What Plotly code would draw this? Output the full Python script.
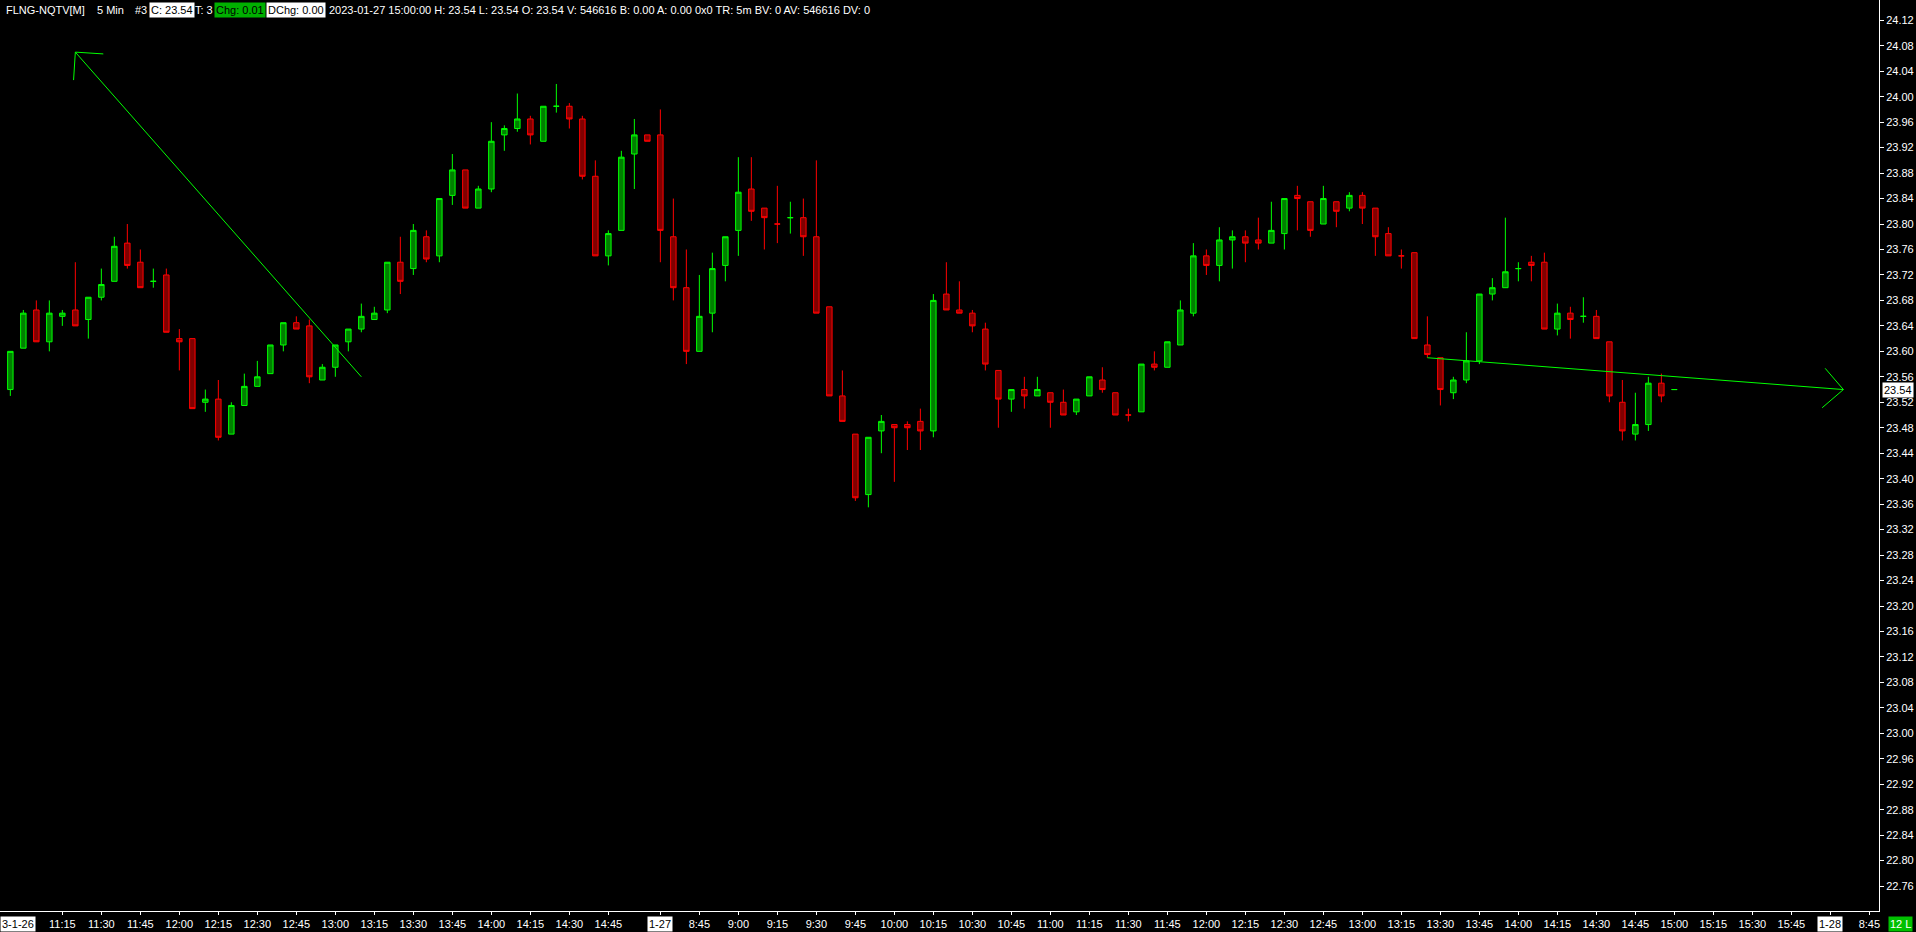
import math
import pandas as pd
import plotly.graph_objects as go

# ---------------- data ----------------
day1_times = pd.date_range("2023-01-26 10:55", "2023-01-26 15:00", freq="5min")
day2_times = pd.date_range("2023-01-27 08:30", "2023-01-27 15:00", freq="5min")
future_times = list(pd.date_range("2023-01-27 15:05", "2023-01-27 15:55", freq="5min")) + \
    list(pd.date_range("2023-01-28 08:30", "2023-01-28 08:45", freq="5min"))

bar_times = [t.strftime("%Y-%m-%d %H:%M") for t in list(day1_times) + list(day2_times)]
slot_times = bar_times + [t.strftime("%Y-%m-%d %H:%M") for t in future_times]

opens = [23.54, 23.605, 23.665, 23.615, 23.655, 23.665, 23.65, 23.685, 23.71, 23.77,
         23.74, 23.71, 23.72, 23.62, 23.62, 23.52, 23.525, 23.47, 23.515, 23.545,
         23.565, 23.61, 23.645, 23.64, 23.555, 23.575, 23.615, 23.635, 23.65, 23.665,
         23.74, 23.73, 23.78, 23.75, 23.845, 23.885, 23.825, 23.855, 23.94, 23.95,
         23.965, 23.93, 23.985, 23.985, 23.965, 23.875, 23.75, 23.79, 23.91, 23.94,
         23.94, 23.78, 23.70, 23.60, 23.66, 23.735, 23.79, 23.855, 23.825, 23.80,
         23.81, 23.81, 23.78, 23.67, 23.53, 23.47, 23.375, 23.475, 23.485, 23.485,
         23.49, 23.475, 23.69, 23.665, 23.66, 23.635, 23.57, 23.525, 23.54, 23.53,
         23.535, 23.52, 23.505, 23.53, 23.555, 23.535, 23.50, 23.505, 23.58, 23.575,
         23.61, 23.66, 23.75, 23.735, 23.775, 23.78, 23.775, 23.77, 23.785, 23.845,
         23.835, 23.80, 23.835, 23.825, 23.845, 23.825, 23.785, 23.75, 23.755, 23.61,
         23.59, 23.535, 23.555, 23.585, 23.69, 23.70, 23.73, 23.74, 23.74, 23.635,
         23.66, 23.655, 23.655, 23.615, 23.52, 23.47, 23.485, 23.55, 23.54]
highs = [23.60, 23.665, 23.68, 23.68, 23.665, 23.74, 23.685, 23.73, 23.78, 23.80,
         23.76, 23.73, 23.73, 23.635, 23.62, 23.54, 23.555, 23.52, 23.565, 23.585,
         23.61, 23.645, 23.655, 23.65, 23.58, 23.61, 23.635, 23.675, 23.67, 23.74,
         23.78, 23.80, 23.79, 23.84, 23.91, 23.885, 23.86, 23.96, 23.955, 24.005,
         23.97, 23.985, 24.02, 23.99, 23.97, 23.90, 23.79, 23.915, 23.965, 23.94,
         23.98, 23.84, 23.76, 23.72, 23.755, 23.78, 23.905, 23.905, 23.825, 23.86,
         23.835, 23.84, 23.90, 23.67, 23.57, 23.47, 23.465, 23.50, 23.485, 23.49,
         23.51, 23.69, 23.74, 23.71, 23.665, 23.645, 23.57, 23.54, 23.56, 23.56,
         23.535, 23.54, 23.525, 23.56, 23.575, 23.535, 23.51, 23.58, 23.60, 23.615,
         23.68, 23.77, 23.76, 23.795, 23.79, 23.79, 23.81, 23.835, 23.84, 23.86,
         23.835, 23.86, 23.835, 23.85, 23.85, 23.825, 23.795, 23.76, 23.755, 23.655,
         23.59, 23.56, 23.63, 23.69, 23.715, 23.81, 23.74, 23.75, 23.755, 23.675,
         23.67, 23.685, 23.665, 23.615, 23.555, 23.535, 23.56, 23.565, 23.54]
lows = [23.53, 23.605, 23.615, 23.60, 23.64, 23.64, 23.62, 23.68, 23.71, 23.73,
        23.70, 23.70, 23.63, 23.57, 23.51, 23.505, 23.46, 23.47, 23.515, 23.545,
        23.565, 23.60, 23.635, 23.55, 23.555, 23.56, 23.60, 23.63, 23.65, 23.66,
        23.69, 23.72, 23.74, 23.74, 23.83, 23.825, 23.825, 23.85, 23.915, 23.945,
        23.925, 23.93, 23.975, 23.95, 23.87, 23.75, 23.735, 23.79, 23.855, 23.93,
        23.74, 23.68, 23.58, 23.60, 23.63, 23.71, 23.75, 23.805, 23.76, 23.77,
        23.785, 23.75, 23.66, 23.53, 23.49, 23.365, 23.355, 23.44, 23.395, 23.445,
        23.445, 23.465, 23.665, 23.66, 23.63, 23.57, 23.48, 23.505, 23.51, 23.53,
        23.48, 23.50, 23.50, 23.53, 23.535, 23.50, 23.49, 23.505, 23.57, 23.575,
        23.61, 23.655, 23.72, 23.71, 23.73, 23.74, 23.76, 23.77, 23.76, 23.79,
        23.78, 23.80, 23.795, 23.82, 23.80, 23.75, 23.75, 23.73, 23.62, 23.59,
        23.515, 23.525, 23.55, 23.58, 23.68, 23.70, 23.71, 23.71, 23.635, 23.625,
        23.62, 23.645, 23.62, 23.52, 23.46, 23.46, 23.475, 23.52, 23.54]
closes = [23.60, 23.66, 23.615, 23.66, 23.66, 23.64, 23.685, 23.705, 23.765, 23.735,
          23.70, 23.71, 23.63, 23.615, 23.51, 23.525, 23.465, 23.515, 23.545, 23.56,
          23.61, 23.645, 23.635, 23.56, 23.575, 23.61, 23.635, 23.655, 23.66, 23.74,
          23.71, 23.79, 23.745, 23.84, 23.885, 23.825, 23.855, 23.93, 23.95, 23.965,
          23.94, 23.985, 23.985, 23.965, 23.875, 23.75, 23.785, 23.905, 23.94, 23.93,
          23.79, 23.70, 23.60, 23.655, 23.73, 23.78, 23.85, 23.82, 23.81, 23.80,
          23.81, 23.78, 23.66, 23.53, 23.49, 23.37, 23.465, 23.49, 23.48, 23.48,
          23.475, 23.68, 23.665, 23.66, 23.64, 23.58, 23.525, 23.54, 23.53, 23.54,
          23.52, 23.50, 23.525, 23.56, 23.54, 23.50, 23.50, 23.58, 23.575, 23.615,
          23.665, 23.75, 23.735, 23.775, 23.78, 23.77, 23.77, 23.79, 23.84, 23.84,
          23.79, 23.84, 23.82, 23.845, 23.825, 23.78, 23.75, 23.75, 23.62, 23.595,
          23.54, 23.555, 23.585, 23.69, 23.70, 23.725, 23.73, 23.735, 23.635, 23.66,
          23.65, 23.655, 23.62, 23.53, 23.475, 23.485, 23.55, 23.53, 23.54]

# time-axis labels
tick_times = ["2023-01-26 11:15", "2023-01-26 11:30", "2023-01-26 11:45", "2023-01-26 12:00",
              "2023-01-26 12:15", "2023-01-26 12:30", "2023-01-26 12:45", "2023-01-26 13:00",
              "2023-01-26 13:15", "2023-01-26 13:30", "2023-01-26 13:45", "2023-01-26 14:00",
              "2023-01-26 14:15", "2023-01-26 14:30", "2023-01-26 14:45",
              "2023-01-27 08:30", "2023-01-27 08:45", "2023-01-27 09:00", "2023-01-27 09:15",
              "2023-01-27 09:30", "2023-01-27 09:45", "2023-01-27 10:00", "2023-01-27 10:15",
              "2023-01-27 10:30", "2023-01-27 10:45", "2023-01-27 11:00", "2023-01-27 11:15",
              "2023-01-27 11:30", "2023-01-27 11:45", "2023-01-27 12:00", "2023-01-27 12:15",
              "2023-01-27 12:30", "2023-01-27 12:45", "2023-01-27 13:00", "2023-01-27 13:15",
              "2023-01-27 13:30", "2023-01-27 13:45", "2023-01-27 14:00", "2023-01-27 14:15",
              "2023-01-27 14:30", "2023-01-27 14:45", "2023-01-27 15:00", "2023-01-27 15:15",
              "2023-01-27 15:30", "2023-01-27 15:45", "2023-01-28 08:30", "2023-01-28 08:45"]
tick_labels = ["11:15", "11:30", "11:45", "12:00", "12:15", "12:30", "12:45", "13:00",
               "13:15", "13:30", "13:45", "14:00", "14:15", "14:30", "14:45",
               "", "8:45", "9:00", "9:15", "9:30", "9:45", "10:00", "10:15",
               "10:30", "10:45", "11:00", "11:15", "11:30", "11:45", "12:00", "12:15",
               "12:30", "12:45", "13:00", "13:15", "13:30", "13:45", "14:00", "14:15",
               "14:30", "14:45", "15:00", "15:15", "15:30", "15:45", "", "8:45"]
date_label_times = ["2023-01-27 08:30", "2023-01-28 08:30"]
date_labels = ["1-27", "1-28"]
first_date_label = "3-1-26"

price_ticks = [round(22.76 + 0.04 * k, 2) for k in range(35)]

# drawn trend lines: (time, price) endpoints, arrow at which end
trend_times = [["2023-01-26 11:20", "2023-01-26 13:10"], ["2023-01-27 13:25", "2023-01-28 08:35"]]
trend_prices = [[24.07, 23.56], [23.59, 23.54]]
trend_arrow_end = [0, 1]

last_price = 23.54
header_parts = [
    ("FLNG-NQTV[M]", None), ("5 Min", None), ("#3", None), ("C: 23.54", "white"),
    ("T: 3", None), ("Chg: 0.01", "green"), ("DChg: 0.00", "white"),
    ("2023-01-27 15:00:00 H: 23.54 L: 23.54 O: 23.54 V: 546616 B: 0.00 A: 0.00 0x0 TR: 5m BV: 0 AV: 546616 DV: 0", None),
]
header_px = [4, 95, 133, 149, 193, 214, 266, 327]

# ---------------- style / geometry ----------------
W, H = 1916, 932
ML, MR, MT, MB = 0, 37, 0, 21
PW, PH = W - ML - MR, H - MT - MB
X_RANGE = [-0.795, 143.74]
Y_RANGE = [22.7209, 24.1519]
FONT = "Liberation Sans, Arial, sans-serif"
FS = 11
UP_LINE, UP_FILL = "#00ff00", "#008000"
DN_LINE, DN_FILL = "#ff0000", "#800000"

# direction of each bar (doji -> compared with previous close, else keep previous)
dirs = []
for i in range(len(opens)):
    o, c = opens[i], closes[i]
    if c > o:
        d = 1
    elif c < o:
        d = -1
    else:
        pc = closes[i - 1] if i else c
        d = 1 if c > pc else (-1 if c < pc else (dirs[-1] if dirs else 1))
    dirs.append(d)

fig = go.Figure()
for sign, lc, fc in [(1, UP_LINE, UP_FILL), (-1, DN_LINE, DN_FILL)]:
    idx = [i for i, d in enumerate(dirs) if d == sign]
    fig.add_trace(go.Candlestick(
        x=[bar_times[i] for i in idx],
        open=[opens[i] for i in idx], high=[highs[i] for i in idx],
        low=[lows[i] for i in idx], close=[closes[i] for i in idx],
        increasing=dict(line=dict(color=lc, width=1), fillcolor=fc),
        decreasing=dict(line=dict(color=lc, width=1), fillcolor=fc),
        whiskerwidth=0, hoverinfo="skip", showlegend=False,
    ))

# trend lines
px_per_x = PW / (X_RANGE[1] - X_RANGE[0])
px_per_y = PH / (Y_RANGE[1] - Y_RANGE[0])
for tt, pp, end in zip(trend_times, trend_prices, trend_arrow_end):
    fig.add_trace(go.Scatter(x=tt, y=pp, mode="lines", line=dict(color="#00ff00", width=1),
                             hoverinfo="skip", showlegend=False))
    tip_i = slot_times.index(tt[end])
    oth_i = slot_times.index(tt[1 - end])
    dx = (oth_i - tip_i) * px_per_x
    dy = (pp[1 - end] - pp[end]) * px_per_y
    n = math.hypot(dx, dy)
    ux, uy = dx / n, dy / n
    for ang in (math.radians(45), math.radians(-45)):
        wx = (ux * math.cos(ang) - uy * math.sin(ang)) * 28
        wy = (ux * math.sin(ang) + uy * math.cos(ang)) * 28
        fig.add_shape(type="line", xref="x", yref="y", xsizemode="pixel", ysizemode="pixel",
                      xanchor=tip_i, yanchor=pp[end], x0=0, y0=0, x1=wx, y1=wy,
                      line=dict(color="#00ff00", width=1))

annotations = []
# header
for (txt, box), px in zip(header_parts, header_px):
    bg = {"white": "#ffffff", "green": "#00b000"}.get(box)
    annotations.append(dict(
        text=txt, xref="paper", yref="paper", x=(px - ML) / PW, y=1, xanchor="left", yanchor="top",
        yshift=-2, showarrow=False, bgcolor=bg, borderpad=1,
        font=dict(family=FONT, size=FS, color="#000000" if bg else "#ffffff")))
# date labels on the time axis
for t, lab in zip(date_label_times, date_labels):
    annotations.append(dict(
        text=lab, xref="x", yref="paper", x=slot_times.index(t), y=0, yanchor="top", yshift=-5,
        showarrow=False, bgcolor="#ffffff", borderpad=1,
        font=dict(family=FONT, size=FS, color="#000000")))
annotations.append(dict(
    text=first_date_label, xref="paper", yref="paper", x=0, y=0, xanchor="left", yanchor="top",
    yshift=-5, showarrow=False, bgcolor="#ffffff", borderpad=1,
    font=dict(family=FONT, size=FS, color="#000000")))
# last price box
annotations.append(dict(
    text=f"{last_price:.2f}", xref="paper", yref="y", x=1, y=last_price, xanchor="left",
    xshift=3, showarrow=False, bgcolor="#ffffff", borderpad=1,
    font=dict(family=FONT, size=FS, color="#000000")))
# bars-count box
annotations.append(dict(
    text="12 L", xref="paper", yref="paper", x=1, y=0, xanchor="left", yanchor="top",
    xshift=9, yshift=-5, showarrow=False, bgcolor="#00c000", borderpad=1,
    font=dict(family=FONT, size=FS, color="#ffffff")))

fig.update_layout(
    template="none",
    width=W, height=H, margin=dict(l=ML, r=MR, t=MT, b=MB, pad=0),
    paper_bgcolor="#000000", plot_bgcolor="#000000",
    showlegend=False, boxgap=0.4, hovermode=False,
    annotations=annotations,
    xaxis=dict(type="category", categoryorder="array", categoryarray=slot_times,
               range=X_RANGE, rangeslider=dict(visible=False), showgrid=False, zeroline=False,
               showline=True, linecolor="#ffffff", linewidth=1, ticks="outside", ticklen=3,
               tickcolor="#ffffff", tickvals=tick_times, ticktext=tick_labels,
               tickfont=dict(family=FONT, size=FS, color="#ffffff"), automargin=False,
               fixedrange=True),
    yaxis=dict(side="right", range=Y_RANGE, showgrid=False, zeroline=False, showline=True,
               linecolor="#ffffff", linewidth=1, ticks="outside", ticklen=4, tickcolor="#ffffff",
               tickvals=price_ticks, ticktext=[f"{v:.2f}" for v in price_ticks],
               tickfont=dict(family=FONT, size=FS, color="#ffffff"), automargin=False,
               fixedrange=True),
)

fig.write_html("out.html", config={"displayModeBar": False},
               post_script="document.body.style.margin='0';document.body.style.overflow='hidden';")
